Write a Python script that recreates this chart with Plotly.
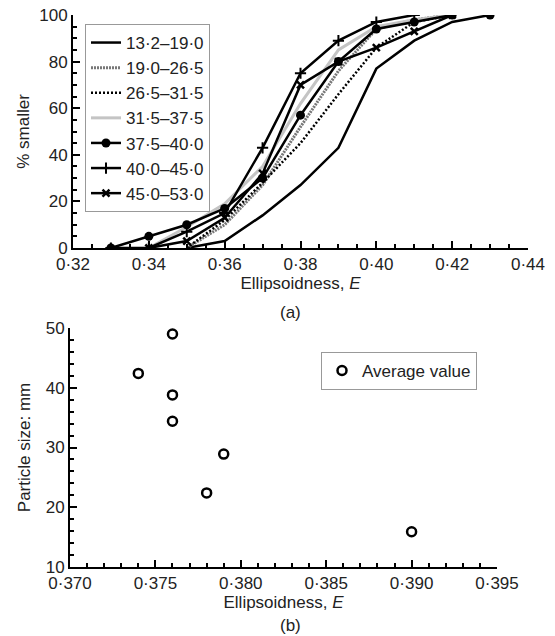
import plotly.graph_objects as go

# (a) cumulative % smaller against ellipsoidness, one curve per size fraction
size_ranges = ["13·2–19·0", "19·0–26·5", "26·5–31·5", "31·5–37·5",
               "37·5–40·0", "40·0–45·0", "45·0–53·0"]

e_1 = [0.35, 0.36, 0.37, 0.38, 0.39, 0.40, 0.41, 0.42, 0.43]
p_1 = [0, 3, 14, 27, 43, 77, 89, 97, 100]

e_2 = [0.35, 0.36, 0.37, 0.38, 0.39, 0.40, 0.41, 0.42]
p_2 = [0, 10, 27, 52, 76, 94, 98, 100]

e_3 = [0.35, 0.36, 0.37, 0.38, 0.39, 0.40, 0.41, 0.42]
p_3 = [0, 12, 28, 45, 66, 86, 97, 100]

e_4 = [0.34, 0.35, 0.36, 0.37, 0.38, 0.39, 0.40, 0.41, 0.42]
p_4 = [0, 9, 19, 35, 62, 85, 95, 98, 100]

e_5 = [0.33, 0.34, 0.35, 0.36, 0.37, 0.38, 0.39, 0.40, 0.41, 0.42]
p_5 = [0, 5, 10, 17, 30, 57, 80, 94, 97, 100]

e_6 = [0.33, 0.34, 0.35, 0.36, 0.37, 0.38, 0.39, 0.40, 0.41]
p_6 = [0, 0, 7, 15, 43, 75, 89, 97, 100]

e_7 = [0.34, 0.35, 0.36, 0.37, 0.38, 0.39, 0.40, 0.41, 0.42]
p_7 = [0, 3, 13, 32, 70, 80, 86, 93, 100]

# (b) average ellipsoidness per particle size
avg_e = [0.374, 0.376, 0.376, 0.376, 0.378, 0.379, 0.390]
avg_size = [42.4, 49.0, 38.8, 34.4, 22.4, 28.9, 15.9]

# the page body keeps its default 8px margin, so the figure is drawn
# 8px smaller and positions are given in window pixels minus that offset
OFF = 8
W, H = 555 - OFF, 636 - OFF
FONT = "Liberation Sans, Arial, sans-serif"
TXT = "#222"


def xp(px):
    return (px - OFF) / W


def yp(py):
    return 1 - (py - OFF) / H


fig = go.Figure()

curves = [
    (e_1, p_1, dict(color="black", width=2.5), None),
    (e_2, p_2, dict(color="#777777", width=3, dash="2px,1px"), None),
    (e_3, p_3, dict(color="black", width=2.5, dash="2px,2px"), None),
    (e_4, p_4, dict(color="#c4c4c4", width=3), None),
    (e_5, p_5, dict(color="black", width=2.5), dict(symbol="circle", size=9, color="black")),
    (e_6, p_6, dict(color="black", width=2.5),
     dict(symbol="cross-thin", size=8, color="black", line=dict(width=2, color="black"))),
    (e_7, p_7, dict(color="black", width=2.5),
     dict(symbol="x-thin", size=7, color="black", line=dict(width=2.5, color="black"))),
]

for name, (ex, py, line, marker) in zip(size_ranges, curves):
    fig.add_trace(go.Scatter(
        x=ex, y=py, name=name,
        mode="lines+markers" if marker else "lines",
        line=line, marker=marker,
        xaxis="x", yaxis="y", legend="legend",
    ))

# the finest fraction ends on a filled dot
fig.add_trace(go.Scatter(
    x=e_1[-1:], y=p_1[-1:], mode="markers", showlegend=False,
    marker=dict(symbol="circle", size=9, color="black"),
    xaxis="x", yaxis="y",
))

fig.add_trace(go.Scatter(
    x=avg_e, y=avg_size, name="Average value", mode="markers",
    marker=dict(symbol="circle-open", size=9, color="black", line=dict(width=2.5)),
    xaxis="x2", yaxis="y2", legend="legend2",
))

axis_common = dict(
    showline=True, linecolor="black", linewidth=2,
    ticks="inside", tickcolor="black", tickwidth=2,
    showgrid=False, zeroline=False, automargin=False,
    ticklabeloverflow="allow",
    tickfont=dict(family=FONT, size=17, color=TXT),
    title_font=dict(family=FONT, size=17, color=TXT),
)
minor_common = dict(ticks="inside", ticklen=4, tickwidth=2, tickcolor="black")

fig.update_layout(
    width=W, height=H,
    margin=dict(l=0, r=0, t=0, b=0),
    paper_bgcolor="white", plot_bgcolor="white",
    separators="·,",
    font=dict(family=FONT, color=TXT),
    xaxis=dict(axis_common, domain=[xp(73), xp(528)], range=[0.32, 0.44],
               tick0=0.32, dtick=0.02, tickformat=".2f", ticklen=7,
               minor=dict(minor_common, dtick=0.005),
               anchor="y", title=dict(text="Ellipsoidness, <i>E</i>", standoff=0)),
    yaxis=dict(axis_common, domain=[yp(248), yp(15)], range=[0, 100],
               dtick=20, ticklen=7,
               minor=dict(minor_common, dtick=5),
               anchor="x", title=dict(text="% smaller", standoff=5)),
    xaxis2=dict(axis_common, domain=[xp(70), xp(497)], range=[0.370, 0.395],
                tick0=0.37, dtick=0.005, tickformat=".3f", ticklen=7,
                minor=dict(minor_common, dtick=0.001),
                anchor="y2", title=dict(text="Ellipsoidness, <i>E</i>", standoff=0)),
    yaxis2=dict(axis_common, domain=[yp(567), yp(328)], range=[10, 50],
                dtick=10, ticklen=7,
                minor=dict(minor_common, dtick=2),
                anchor="x2", title=dict(text="Particle size: mm", standoff=11)),
    legend=dict(x=xp(85), y=yp(24), xanchor="left", yanchor="top",
                bgcolor="white", bordercolor="#999", borderwidth=1,
                font=dict(family=FONT, size=17, color=TXT),
                tracegroupgap=0),
    legend2=dict(x=xp(321), y=yp(352), xanchor="left", yanchor="top",
                 bgcolor="white", bordercolor="#999", borderwidth=1,
                 font=dict(family=FONT, size=17, color=TXT)),
    annotations=[
        dict(text="(a)", x=xp(290), y=yp(313), xref="paper", yref="paper",
             xanchor="center", yanchor="middle",
             showarrow=False, font=dict(family=FONT, size=17, color=TXT)),
        dict(text="(b)", x=xp(290), y=yp(625), xref="paper", yref="paper",
             xanchor="center", yanchor="middle",
             showarrow=False, font=dict(family=FONT, size=17, color=TXT)),
    ],
)

fig.write_html("out.html")
